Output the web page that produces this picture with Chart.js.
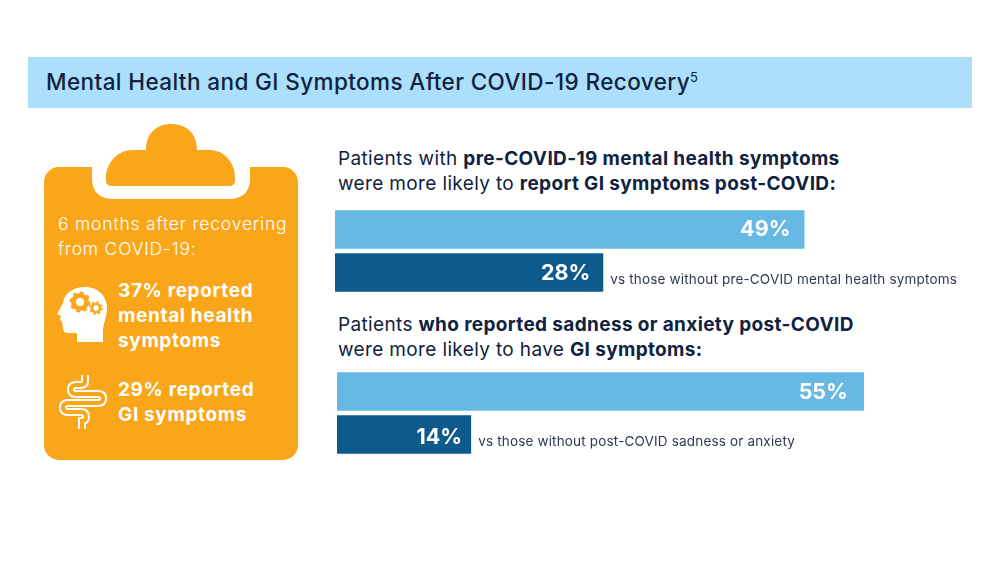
<!DOCTYPE html>
<html>
<head>
<meta charset="utf-8">
<script src="https://cdn.jsdelivr.net/npm/chart.js@4"></script>
<style>
  html, body { margin: 0; padding: 0; background: #fff; }
  body { width: 1000px; height: 563px; position: relative; overflow: hidden; font-family: Inter, sans-serif; color: #0f2240; }
  .abs { position: absolute; white-space: nowrap; }
  #band { left: 28px; top: 57px; width: 944px; height: 51px; background: #abdffb; }
  #title { left: 46px; top: 68px; font-size: 22.5px; line-height: 28px; font-weight: 500; letter-spacing: .4px; }
  #title sup { font-size: 13px; line-height: 0; vertical-align: 8px; font-weight: 400; }
  .head { left: 338px; font-size: 19px; line-height: 25px; font-weight: 400; letter-spacing: .36px; }
  .head b { font-weight: 700; }
  .panel { color: #fff; }
  #p1 { left: 58px; top: 211px; font-size: 17.5px; line-height: 25px; font-weight: 300; letter-spacing: .8px; }
  .stat { left: 118px; font-size: 19px; line-height: 25px; font-weight: 700; letter-spacing: .65px; }
  svg { position: absolute; left: 0; top: 0; }
  canvas { position: absolute; }
  .wrap { position: absolute; }
</style>
</head>
<body>
<div class="abs" id="band"></div>
<div class="abs" id="title">Mental Health and GI Symptoms After COVID-19 Recovery<sup>5</sup></div>

<svg width="1000" height="563" viewBox="0 0 1000 563">
  <rect x="44" y="167" width="254" height="293" rx="15" fill="#faa61a"/>
  <path d="M92 160 H250 V178 Q250 199 228 199 H114 Q92 199 92 178 Z" fill="#fff"/>
  <path d="M146 150 C146 132 158 124 171 124 C185 124 197 132 197 150 H210 C225 150 236 164 235 180 Q235 186 229 186 H112 Q106 186 106 180 C105 164 117 150 132 150 Z" fill="#faa61a"/>
  <!-- head -->
  <path d="M77 342 V333 H68 Q63 333 63 328 L62 322 L60 319 L61 316 L57 314 L63 303 C64 293 74 287 85 287 C98 287 107 296 107 308 C107 318 103 323 103 331 V342 Z" fill="#fff"/>
  <circle cx="80" cy="302" r="6.5" fill="none" stroke="#faa61a" stroke-width="5"/>
  <circle cx="80" cy="302" r="9.5" fill="none" stroke="#faa61a" stroke-width="2" stroke-dasharray="3.7 3.7"/>
  <circle cx="96" cy="308" r="4" fill="none" stroke="#faa61a" stroke-width="2.6"/>
  <circle cx="96" cy="308" r="6" fill="none" stroke="#faa61a" stroke-width="1.6" stroke-dasharray="2.4 2.3"/>
  <!-- intestine: wide white stroke with an orange core gives the outlined tube -->
  <g fill="none">
    <path d="M85 375 V381 Q85 385 80 385 H76 Q71 385 71 389.5 Q71 394 76 394 H98 Q103 394 103 398.5 Q103 403 98 403 H68 Q63 403 63 407.5 Q63 412 68 412 H81 Q86 412 86 417 Q86 421 82 421 V429" stroke="#fff" stroke-width="8"/>
    <path d="M85 370 V381 Q85 385 80 385 H76 Q71 385 71 389.5 Q71 394 76 394 H98 Q103 394 103 398.5 Q103 403 98 403 H68 Q63 403 63 407.5 Q63 412 68 412 H81 Q86 412 86 417 Q86 421 82 421 V434" stroke="#faa61a" stroke-width="4"/>
  </g>
</svg>

<div class="abs panel" id="p1">6 months after recovering<br>from COVID-19:</div>
<div class="abs panel stat" style="top:278px">37% reported<br>mental health<br>symptoms</div>
<div class="abs panel stat" style="top:377px">29% reported<br>GI symptoms</div>

<div class="abs head" style="top:146px">Patients with <b>pre-COVID-19 mental health symptoms</b><br>were more likely to <b>report GI symptoms post-COVID:</b></div>
<div class="abs head" style="top:312px">Patients <b>who reported sadness or anxiety post-COVID</b><br>were more likely to have <b>GI symptoms:</b></div>

<div class="wrap" style="left:335px;top:208px;width:640px;height:86px"><canvas id="chartA"></canvas></div>
<div class="wrap" style="left:337px;top:370px;width:640px;height:86px"><canvas id="chartB"></canvas></div>

<script>
  const categoriesA = ['With pre-COVID mental health symptoms', 'Without pre-COVID mental health symptoms'];
  const valuesA = [49, 28];
  const notesA = ['', 'vs those without pre-COVID mental health symptoms'];

  const categoriesB = ['With post-COVID sadness or anxiety', 'Without post-COVID sadness or anxiety'];
  const valuesB = [55, 14];
  const notesB = ['', 'vs those without post-COVID sadness or anxiety'];

  const barColors = ['#66b9e3', '#0d5a8c'];
  const axisMax = 66.8; // 640px canvas at ~9.58px per percent

  // values inside the bar ends, plus the grey note after the short bar
  const barText = {
    id: 'barText',
    afterDatasetsDraw(chart, args, opts) {
      const ctx = chart.ctx;
      chart.getDatasetMeta(0).data.forEach((bar, i) => {
        ctx.save();
        ctx.textBaseline = 'middle';
        ctx.textAlign = 'right';
        ctx.fillStyle = '#fff';
        ctx.font = '700 21.5px Inter, sans-serif';
        ctx.fillText(chart.data.datasets[0].data[i] + '%', bar.x - opts.insets[i], bar.y + opts.dy[i]);
        if (opts.notes[i]) {
          ctx.textAlign = 'left';
          ctx.fillStyle = '#2d3a4f';
          ctx.font = '400 13.5px Inter, sans-serif';
          ctx.letterSpacing = '0.17px';
          ctx.fillText(opts.notes[i], bar.x + 7, bar.y + 7);
        }
        ctx.restore();
      });
    }
  };

  function drawBars(id, categories, values, notes, insets, dy) {
    return new Chart(document.getElementById(id), {
      type: 'bar',
      data: {
        labels: categories,
        datasets: [{
          data: values,
          backgroundColor: barColors,
          categoryPercentage: 1,
          barPercentage: 0.9
        }]
      },
      options: {
        indexAxis: 'y',
        responsive: true,
        maintainAspectRatio: false,
        animation: false,
        layout: { padding: 0 },
        plugins: {
          legend: { display: false },
          tooltip: { enabled: false },
          barText: { notes, insets, dy }
        },
        scales: {
          x: { display: false, min: 0, max: axisMax },
          y: { display: false }
        }
      },
      plugins: [barText]
    });
  }

  drawBars('chartA', categoriesA, valuesA, notesA, [14, 13], [0, 1]);
  drawBars('chartB', categoriesB, valuesB, notesB, [16, 9], [1, 3]);
</script>
</body>
</html>
